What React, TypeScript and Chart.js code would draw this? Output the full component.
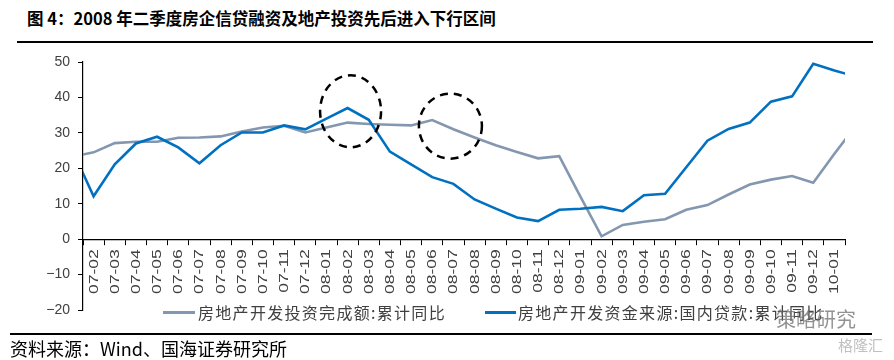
import { useEffect, useRef } from 'react';
import { Chart, registerables } from 'chart.js';

Chart.register(...registerables);

// Categories (first and last are only partially visible, clipped at the axis edges)
const categories = [
  '07-01',
  '07-02', '07-03', '07-04', '07-05', '07-06', '07-07', '07-08', '07-09', '07-10', '07-11', '07-12',
  '08-01', '08-02', '08-03', '08-04', '08-05', '08-06', '08-07', '08-08', '08-09', '08-10', '08-11', '08-12',
  '09-01', '09-02', '09-03', '09-04', '09-05', '09-06', '09-07', '09-08', '09-09', '09-10', '09-11', '09-12',
  '10-01',
  '10-02',
];
const firstShown = '07-02';
const lastShown = '10-01';

// 房地产开发投资完成额:累计同比
const investmentYoY = [
  23.3,
  24.5, 27.1, 27.5, 27.5, 28.6, 28.7, 29.0, 30.4, 31.5, 32.0, 30.1,
  31.5, 32.9, 32.5, 32.3, 32.1, 33.6, 31.0, 28.7, 26.5, 24.6, 22.8, 23.4,
  12.0, 0.8, 4.0, 4.9, 5.6, 8.3, 9.6, 12.6, 15.4, 16.8, 17.8, 15.9,
  24.1,
  31.9,
];

// 房地产开发资金来源:国内贷款:累计同比
const domesticLoanYoY = [
  25.1,
  12.1, 21.1, 27.0, 28.9, 25.9, 21.4, 26.5, 30.1, 30.1, 32.1, 31.0,
  34.0, 37.0, 33.7, 24.7, 21.1, 17.5, 15.6, 11.2, 8.6, 6.1, 5.1, 8.3,
  8.6, 9.1, 7.9, 12.4, 12.8, 20.3, 27.8, 31.1, 32.9, 38.8, 40.3, 49.5,
  47.6,
  45.9,
];

const seriesNames = ['房地产开发投资完成额:累计同比', '房地产开发资金来源:国内贷款:累计同比'];
const yMin = -20;
const yMax = 50;
const yStep = 10;

// Highlight circles (annotation): centre category/value
const highlightCategories = ['08-02', '08-07'];
const highlightValues = [36.1, 31.9];

const GRAY = '#8497B0';
const BLUE = '#0070C0';
const TEXT = '#404040';

const xLabelPlugin = {
  id: 'xLabelPlugin',
  afterDraw(chart: any) {
    const xs = chart.scales.x;
    const ys = chart.scales.y;
    const ctx = chart.ctx;
    const y0 = ys.getPixelForValue(0);
    ctx.save();
    ctx.font = '13px "Liberation Sans", Arial, sans-serif';
    ctx.fillStyle = TEXT;
    ctx.textAlign = 'right';
    ctx.textBaseline = 'middle';
    xs.ticks.forEach((t: any) => {
      const x = xs.getPixelForValue(t.value);
      const label = xs.getLabelForValue(t.value);
      ctx.save();
      ctx.translate(x + 0.5, y0 + 10);
      ctx.rotate(-Math.PI / 2);
      ctx.scale(1.35, 1);
      ctx.fillText(label, 0, 0);
      ctx.restore();
    });
    ctx.restore();
  },
};

const circlePlugin = {
  id: 'circlePlugin',
  afterDatasetsDraw(chart: any) {
    const xs = chart.scales.x;
    const ys = chart.scales.y;
    const ctx = chart.ctx;
    const radii = [
      [30.5, 36],
      [31.5, 32.5],
    ];
    const shifts = [3, -3];
    ctx.save();
    ctx.strokeStyle = '#000';
    ctx.lineWidth = 2.5;
    ctx.setLineDash([8, 6]);
    highlightCategories.forEach((c, i) => {
      const idx = categories.indexOf(c);
      const cx = xs.getPixelForValue(idx) + shifts[i];
      const cy = ys.getPixelForValue(highlightValues[i]);
      ctx.beginPath();
      ctx.ellipse(cx, cy, radii[i][0], radii[i][1], 0, 0, Math.PI * 2);
      ctx.stroke();
    });
    ctx.restore();
  },
};

function ChartCanvas() {
  const ref = useRef<HTMLCanvasElement | null>(null);
  useEffect(() => {
    if (!ref.current) return;
    const chart = new Chart(ref.current, {
      type: 'line',
      data: {
        labels: categories,
        datasets: [
          {
            label: seriesNames[1],
            data: domesticLoanYoY,
            borderColor: BLUE,
            backgroundColor: BLUE,
            borderWidth: 2.6,
            pointRadius: 0,
            tension: 0,
            clip: 0,
            order: 0,
          },
          {
            label: seriesNames[0],
            data: investmentYoY,
            borderColor: GRAY,
            backgroundColor: GRAY,
            borderWidth: 2.6,
            pointRadius: 0,
            tension: 0,
            clip: 0,
            order: 1,
          },
        ],
      },
      options: {
        animation: false,
        responsive: false,
        devicePixelRatio: 1,
        layout: { padding: { top: 62, bottom: 50, left: 0, right: 49 } },
        plugins: {
          legend: { display: false },
          tooltip: { enabled: false },
          title: { display: false },
        },
        scales: {
          x: {
            type: 'category',
            offset: true,
            afterDataLimits(scale: any) {
              scale.min = categories.indexOf(firstShown);
              scale.max = categories.indexOf(lastShown);
            },
            position: { y: 0 } as any,
            grid: {
              display: true,
              drawOnChartArea: false,
              drawTicks: true,
              tickLength: 5,
              color: '#000',
              offset: true,
              lineWidth: 1,
            },
            border: { display: true, color: '#000', width: 1.2 },
            ticks: { display: false, autoSkip: false },
          },
          y: {
            min: yMin,
            max: yMax,
            afterFit(scale: any) {
              scale.width = 83;
            },
            grid: {
              display: true,
              drawOnChartArea: false,
              drawTicks: true,
              tickLength: 5,
              color: '#000',
              lineWidth: 1,
            },
            border: { display: true, color: '#000', width: 1.2 },
            ticks: {
              stepSize: yStep,
              padding: 8,
              color: TEXT,
              font: { family: '"Liberation Sans", Arial, sans-serif', size: 14 },
              callback: (v: any) => String(v).replace('-', '\u2212'),
            },
          },
        },
      },
      plugins: [circlePlugin, xLabelPlugin],
    });
    return () => chart.destroy();
  }, []);
  return (
    <canvas
      ref={ref}
      width={894}
      height={360}
      style={{ position: 'absolute', left: 0, top: 0, width: 894, height: 360 }}
    />
  );
}

export default function App() {
  const cjk = '"Noto Sans CJK SC", "Noto Sans", sans-serif';
  return (
    <div
      style={{
        position: 'absolute',
        left: 0,
        top: 0,
        width: 894,
        height: 360,
        background: '#fff',
        overflow: 'hidden',
        fontFamily: cjk,
      }}
    >
      <div
        style={{
          position: 'absolute',
          left: 27,
          top: 7,
          fontSize: 16.5,
          lineHeight: '22px',
          fontWeight: 700,
          color: '#000',
          whiteSpace: 'nowrap',
        }}
      >
        图 4：2008 年二季度房企信贷融资及地产投资先后进入下行区间
      </div>
      <div style={{ position: 'absolute', left: 17, top: 41, width: 856, height: 2, background: '#000' }} />
      <ChartCanvas />
      {/* legend */}
      <div style={{ position: 'absolute', left: 163, top: 311, width: 32, height: 3, background: GRAY }} />
      <div
        style={{
          position: 'absolute',
          left: 198,
          top: 301,
          fontSize: 16,
          lineHeight: '22px',
          letterSpacing: 1.3,
          color: TEXT,
          whiteSpace: 'nowrap',
        }}
      >
        {seriesNames[0]}
      </div>
      <div style={{ position: 'absolute', left: 485, top: 311, width: 31, height: 3, background: BLUE }} />
      <div
        style={{
          position: 'absolute',
          left: 518,
          top: 301,
          fontSize: 16,
          lineHeight: '22px',
          letterSpacing: 1.3,
          color: TEXT,
          whiteSpace: 'nowrap',
        }}
      >
        {seriesNames[1]}
      </div>
      {/* watermark */}
      <div
        style={{
          position: 'absolute',
          left: 776,
          top: 306,
          fontSize: 20,
          lineHeight: '26px',
          color: 'rgba(110,110,110,0.75)',
          whiteSpace: 'nowrap',
        }}
      >
        策略研究
      </div>
      <div
        style={{
          position: 'absolute',
          left: 838,
          top: 335,
          fontSize: 15,
          lineHeight: '20px',
          color: 'rgba(150,150,150,0.6)',
          whiteSpace: 'nowrap',
        }}
      >
        格隆汇
      </div>
      <div style={{ position: 'absolute', left: 10, top: 333, width: 862, height: 2, background: '#000' }} />
      <div
        style={{
          position: 'absolute',
          left: 10,
          top: 336,
          fontSize: 18,
          lineHeight: '24px',
          color: '#000',
          whiteSpace: 'nowrap',
        }}
      >
        资料来源：Wind、国海证券研究所
      </div>
    </div>
  );
}
